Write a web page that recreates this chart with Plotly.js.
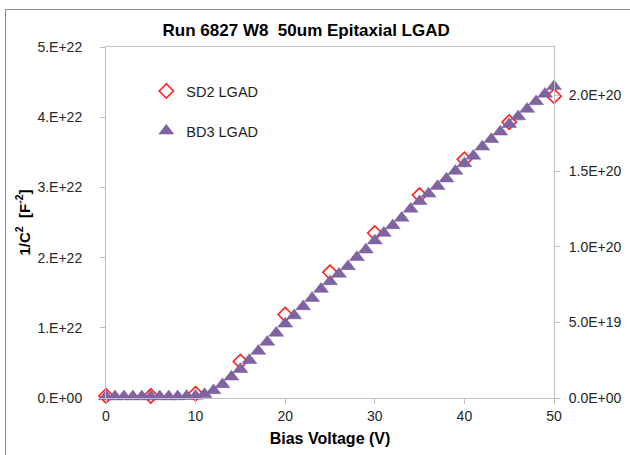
<!DOCTYPE html>
<html>
<head>
<meta charset="utf-8">
<script src="https://cdn.plot.ly/plotly-3.0.1.min.js"></script>
<style>
html,body{margin:0;padding:0;width:630px;height:455px;overflow:hidden;background:#fff;}
#chart{position:absolute;left:0;top:0;width:630px;height:455px;}
#frame{position:absolute;left:5px;top:9px;width:700px;height:600px;border:1px solid #8c8c8c;pointer-events:none;}
</style>
</head>
<body>
<div id="chart"></div>
<div id="frame"></div>
<script>
// SD2 LGAD (left axis, 1/C^2 in F^-2)
const sd2Voltage = [0, 5, 10, 15, 20, 25, 30, 35, 40, 45, 50];
const sd2Values = [0.03e22, 0.03e22, 0.06e22, 0.52e22, 1.19e22, 1.79e22, 2.35e22, 2.89e22, 3.40e22, 3.93e22, 4.30e22];

// BD3 LGAD (right axis)
const bd3Voltage = [0,1,2,3,4,5,6,7,8,9,10,11,12,13,14,15,16,17,18,19,20,21,22,23,24,25,26,27,28,29,30,31,32,33,34,35,36,37,38,39,40,41,42,43,44,45,46,47,48,49,50];
const bd3Values = [
  0.01e20,0.01e20,0.01e20,0.01e20,0.01e20,0.01e20,0.01e20,0.01e20,0.01e20,0.012e20,0.014e20,
  0.025e20,0.05e20,0.09e20,0.14e20,0.19e20,0.25e20,0.31e20,0.37e20,0.43e20,0.49e20,
  0.545e20,0.605e20,0.66e20,0.72e20,0.77e20,0.82e20,0.87e20,0.93e20,0.98e20,1.04e20,
  1.09e20,1.14e20,1.19e20,1.25e20,1.30e20,1.35e20,1.40e20,1.45e20,1.50e20,1.55e20,
  1.60e20,1.66e20,1.71e20,1.76e20,1.81e20,1.86e20,1.91e20,1.96e20,2.01e20,2.06e20
];

const xTickVals = [0, 10, 20, 30, 40, 50];
const xTickText = ['0', '10', '20', '30', '40', '50'];
const yTickVals = [0, 1e22, 2e22, 3e22, 4e22, 5e22];
const yTickText = ['0.E+00', '1.E+22', '2.E+22', '3.E+22', '4.E+22', '5.E+22'];
const y2TickVals = [0, 0.5e20, 1.0e20, 1.5e20, 2.0e20];
const y2TickText = ['0.0E+00', '5.0E+19', '1.0E+20', '1.5E+20', '2.0E+20'];

const font = 'Arial, "Liberation Sans", sans-serif';
const axisColor = '#BFBFBF';
const textColor = '#262626';

const traces = [
  {
    x: sd2Voltage, y: sd2Values, name: 'SD2 LGAD', type: 'scatter', mode: 'markers',
    yaxis: 'y', legendgroup: 'a', cliponaxis: false,
    marker: {symbol: 'diamond', size: 11, color: '#FFFFFF', line: {color: '#FF2020', width: 1.6}}
  },
  {
    x: bd3Voltage, y: bd3Values, name: 'BD3 LGAD', type: 'scatter', mode: 'markers',
    yaxis: 'y2', legendgroup: 'b', cliponaxis: false,
    marker: {symbol: 'triangle-up', size: 13, color: '#8064A2', line: {color: '#7558A0', width: 0.5}}
  }
];

const layout = {
  width: 630, height: 455,
  margin: {l: 106, r: 76, t: 47, b: 57},
  paper_bgcolor: '#FFFFFF', plot_bgcolor: '#FFFFFF',
  font: {family: font, size: 14, color: textColor},
  title: {
    text: '<b>Run 6827 W8\u00a0 50um Epitaxial LGAD</b>',
    font: {family: font, size: 17, color: '#000000'},
    xref: 'container', x: 0.486, xanchor: 'center',
    yref: 'container', y: 1 - 30/455, yanchor: 'middle'
  },
  showlegend: true,
  legend: {
    x: 0.09, y: 0.92, xanchor: 'left', yanchor: 'top',
    bgcolor: 'rgba(0,0,0,0)', font: {family: font, size: 14.5, color: '#222'},
    traceorder: 'grouped', tracegroupgap: 18, itemsizing: 'trace', itemwidth: 30
  },
  xaxis: {
    range: [0, 50], tickvals: xTickVals, ticktext: xTickText,
    showline: true, linecolor: axisColor, linewidth: 1, mirror: true,
    ticks: 'outside', ticklen: 5, tickcolor: axisColor,
    showgrid: false, zeroline: false,
    tickfont: {family: font, size: 14, color: textColor},
    title: {text: '<b>Bias Voltage (V)</b>', font: {family: font, size: 16, color: '#000000'}, standoff: 10}
  },
  yaxis: {
    range: [0, 5e22], tickvals: yTickVals, ticktext: yTickText,
    showline: true, linecolor: axisColor, linewidth: 1,
    ticks: 'outside', ticklen: 5, tickcolor: axisColor, ticklabelstandoff: 15,
    showgrid: false, zeroline: false,
    tickfont: {family: font, size: 14, color: textColor},
    title: {text: '<b>1/C<sup>2</sup>  [F<sup>-2</sup>]</b>', font: {family: font, size: 15, color: '#000000'}, standoff: 3}
  },
  yaxis2: {
    range: [0, 2.32e20], tickvals: y2TickVals, ticktext: y2TickText,
    overlaying: 'y', side: 'right',
    showline: true, linecolor: axisColor, linewidth: 1,
    ticks: 'outside', ticklen: 5, tickcolor: axisColor, ticklabelstandoff: 6,
    showgrid: false, zeroline: false,
    tickfont: {family: font, size: 14, color: textColor}
  }
};

Plotly.newPlot('chart', traces, layout, {displayModeBar: false, staticPlot: true});
</script>
</body>
</html>
